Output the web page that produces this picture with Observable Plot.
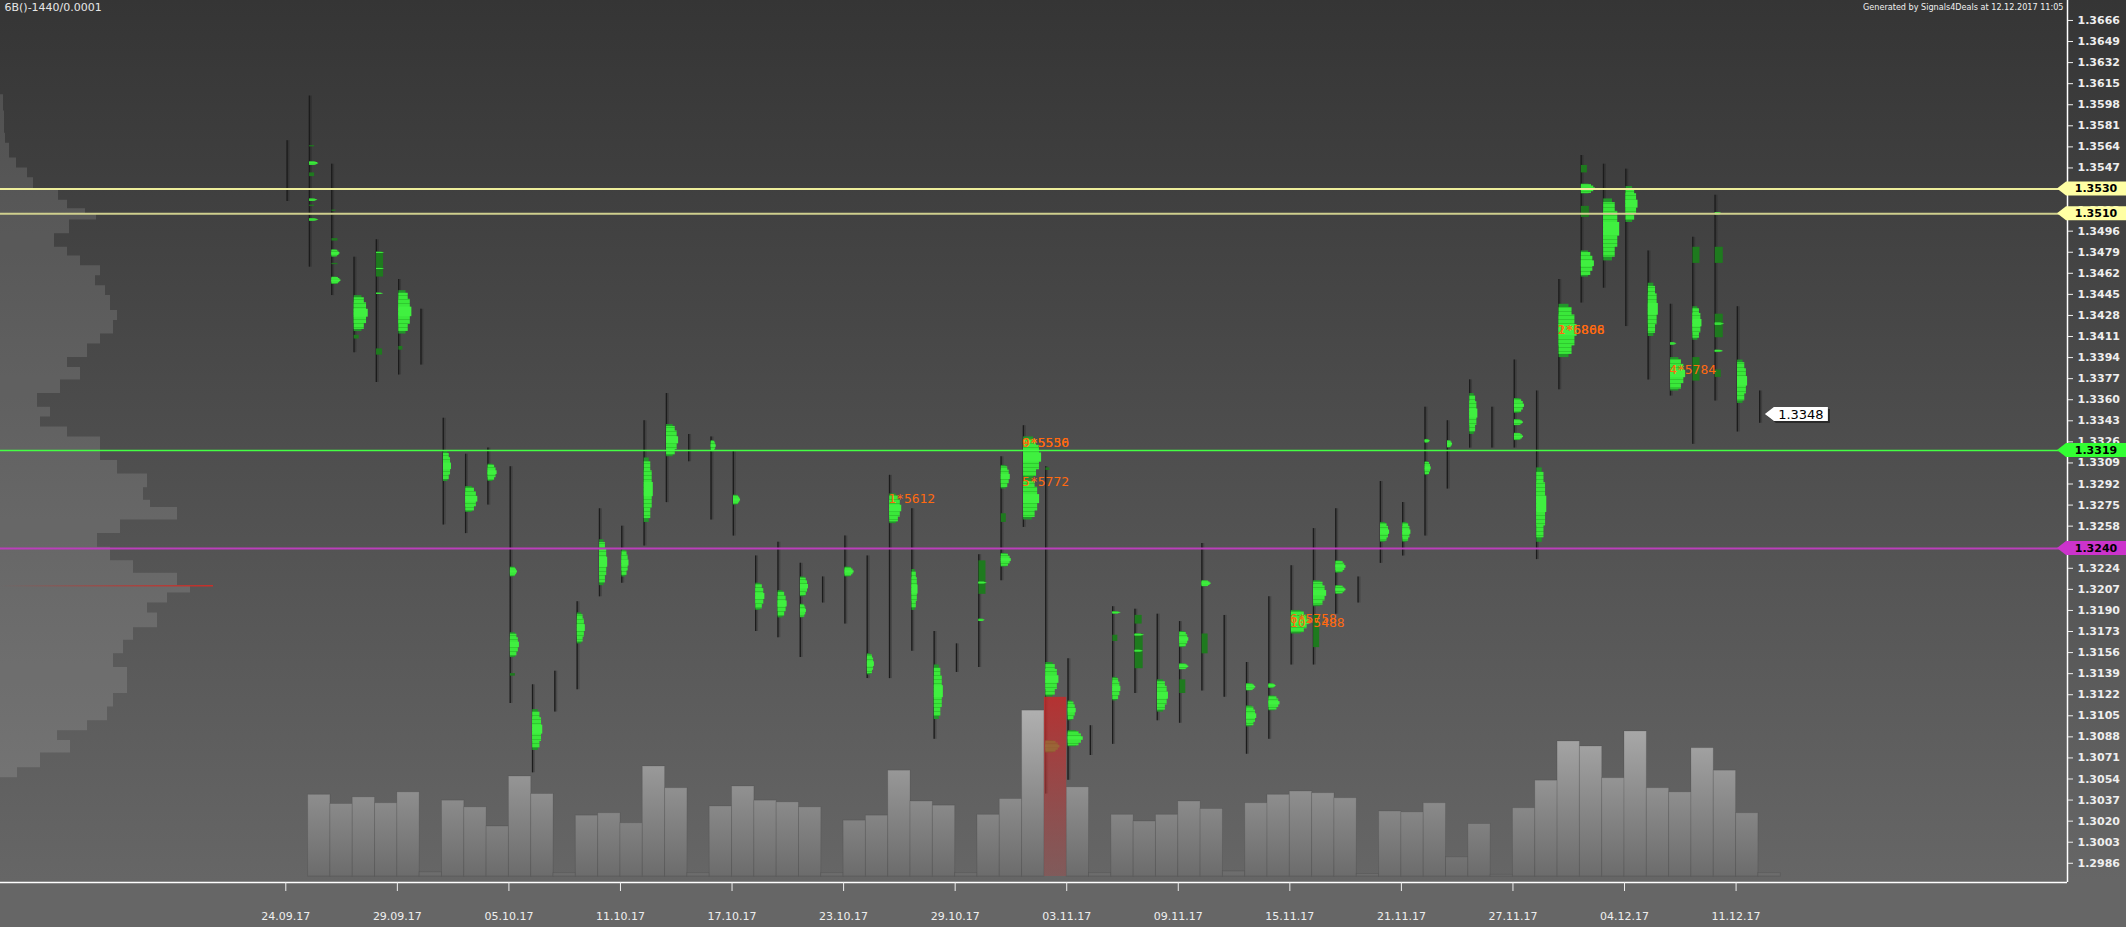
<!DOCTYPE html>
<html><head><meta charset="utf-8">
<script src="https://cdn.jsdelivr.net/npm/d3@7"></script>
<script src="https://cdn.jsdelivr.net/npm/@observablehq/plot@0.6"></script>
<style>
html,body{margin:0;padding:0;background:#666;}
#chart{position:relative;width:2126px;height:927px;overflow:hidden;
 background:linear-gradient(to bottom,#353535 0px,#666666 880px,#666666 927px);}
#chart svg{position:absolute;left:0;top:0;}
</style></head><body><div id="chart"></div>
<script>
// ---------------- DATA ----------------
const titleText = "6B()-1440/0.0001";
const creditText = "Generated by Signals4Deals at 12.12.2017 11:05";

// daily columns (index = column), Sun..Fri sessions
const highs = [1.3569,1.3605,1.3550,1.3475,1.3489,1.3457,1.3433,1.3345,1.3316,1.3321,
 1.3306,1.3130,1.3141,1.3197,1.3272,1.3258,1.3343,1.3365,1.3332,1.3330,
 1.3318,1.3234,1.3245,1.3228,1.3217,1.3250,1.3234,1.3299,1.3272,1.3173,
 1.3163,1.3235,1.3314,1.3339,1.3306,1.3151,1.3097,1.3193,1.3191,1.3187,
 1.3181,1.3244,1.3186,1.3148,1.3201,1.3226,1.3256,1.3272,1.3217,1.3294,
 1.3277,1.3354,1.3343,1.3376,1.3354,1.3392,1.3367,1.3457,1.3557,1.3550,
 1.3546,1.3480,1.3437,1.3491,1.3525,1.3435,1.3367];
const lows = [1.3520,1.3467,1.3444,1.3398,1.3374,1.3380,1.3388,1.3259,1.3252,1.3275,
 1.3115,1.3059,1.3108,1.3126,1.3201,1.3212,1.3242,1.3277,1.3310,1.3263,
 1.3250,1.3173,1.3168,1.3152,1.3196,1.3179,1.3135,1.3135,1.3157,1.3086,
 1.3140,1.3144,1.3214,1.3257,1.3042,1.3053,1.3073,1.3082,1.3123,1.3101,
 1.3099,1.3125,1.3120,1.3074,1.3086,1.3146,1.3146,1.3187,1.3196,1.3228,
 1.3234,1.3250,1.3288,1.3321,1.3321,1.3321,1.3231,1.3368,1.3438,1.3450,
 1.3419,1.3376,1.3363,1.3324,1.3359,1.3334,1.3341];
// daily volume (thousand contracts)
const volumes = [0,98,87,95,88,101,5,91,83,60,120,99,4,73,76,64,132,106,4,84,
 108,91,89,83,4,67,73,127,90,85,4,74,93,199,215,107,4,74,66,74,
 90,81,6,88,98,102,100,94,3,78,77,88,23,63,2,82,115,162,156,118,
 174,106,101,154,127,76,4];
const highlightCol = 34;

// intraday volume-profile clusters: [column, top price, bottom price, volume, strong(1)/weak(0)]
const profileBlocks = [
[1,1.3565,1.3564,5,0],[1,1.3552,1.3549,9,1],[1,1.3543,1.3540,5,0],[1,1.3522,1.3520,8,1],[1,1.3517,1.3516,5,0],[1,1.3510,1.3509,6,0],[1,1.3506,1.3504,9,1],
[2,1.3513,1.3512,4,0],[2,1.3490,1.3488,6,0],[2,1.3481,1.3475,8,1],[2,1.3470,1.3469,6,0],[2,1.3459,1.3453,9,1],
[3,1.3444,1.3415,14,1],[3,1.3412,1.3409,5,0],
[4,1.3479,1.3459,7,0],[4,1.3479,1.3478,8,1],[4,1.3466,1.3465,8,1],[4,1.3446,1.3445,7,1],[4,1.3401,1.3396,6,0],
[5,1.3448,1.3413,13,1],[5,1.3403,1.3400,4,0],
[7,1.3318,1.3294,8,1],
[8,1.3290,1.3269,12,1],
[9,1.3308,1.3294,9,1],
[10,1.3225,1.3217,7,1],[10,1.3172,1.3152,9,1],[10,1.3139,1.3137,5,0],
[11,1.3110,1.3077,10,1],
[13,1.3188,1.3163,8,1],
[14,1.3247,1.3210,8,1],
[15,1.3239,1.3217,7,1],
[16,1.3313,1.3261,9,1],
[17,1.3340,1.3314,12,1],
[19,1.3327,1.3318,5,1],
[20,1.3283,1.3275,7,1],
[21,1.3212,1.3190,9,1],
[22,1.3206,1.3184,9,1],
[23,1.3217,1.3201,8,1],[23,1.3195,1.3184,6,1],
[25,1.3225,1.3217,9,1],
[26,1.3155,1.3138,7,1],
[27,1.3284,1.3260,12,1],
[28,1.3223,1.3190,6,1],
[29,1.3146,1.3102,9,1],
[31,1.3230,1.3203,7,0],[31,1.3213,1.3211,8,1],[31,1.3183,1.3181,6,1],
[32,1.3307,1.3288,9,1],[32,1.3268,1.3261,5,0],[32,1.3236,1.3225,10,1],
[33,1.3330,1.3296,18,1],[33,1.3296,1.3263,16,1],
[34,1.3305,1.3303,4,0],[34,1.3148,1.3120,13,1],[34,1.3085,1.3075,14,1],
[35,1.3117,1.3101,8,1],[35,1.3093,1.3080,15,1],
[37,1.3189,1.3187,8,1],[37,1.3170,1.3165,5,0],[37,1.3136,1.3117,8,1],
[38,1.3186,1.3179,7,0],[38,1.3171,1.3143,8,0],[38,1.3171,1.3169,9,1],[38,1.3158,1.3156,8,1],
[39,1.3134,1.3108,11,1],
[40,1.3173,1.3160,9,1],[40,1.3147,1.3142,9,1],[40,1.3134,1.3123,6,0],
[41,1.3214,1.3209,9,1],[41,1.3171,1.3155,6,0],
[43,1.3131,1.3125,9,1],[43,1.3113,1.3096,10,1],
[44,1.3131,1.3127,7,1],[44,1.3121,1.3109,11,1],
[45,1.3190,1.3171,18,1],
[46,1.3214,1.3193,13,1],[46,1.3186,1.3160,6,0],
[47,1.3230,1.3220,10,1],[47,1.3210,1.3203,10,1],
[49,1.3261,1.3245,9,1],
[50,1.3261,1.3245,8,1],
[51,1.3328,1.3325,5,1],[51,1.3310,1.3299,6,1],
[52,1.3327,1.3321,5,1],
[53,1.3365,1.3332,8,1],
[55,1.3361,1.3349,10,1],[55,1.3344,1.3339,9,1],[55,1.3333,1.3327,9,1],
[56,1.3305,1.3245,10,1],
[57,1.3437,1.3394,18,1],
[58,1.3549,1.3543,6,0],[58,1.3534,1.3526,14,1],[58,1.3516,1.3507,8,0],[58,1.3480,1.3459,13,1],
[59,1.3522,1.3472,16,1],
[60,1.3532,1.3503,12,1],
[61,1.3454,1.3411,10,1],
[62,1.3406,1.3404,6,1],[62,1.3394,1.3367,15,1],
[63,1.3483,1.3470,7,0],[63,1.3435,1.3408,9,1],[63,1.3394,1.3375,7,0],
[64,1.3511,1.3509,7,1],[64,1.3483,1.3470,8,0],[64,1.3429,1.3410,8,0],[64,1.3422,1.3420,9,1],[64,1.3400,1.3398,8,1],[64,1.3384,1.3378,6,0],
[65,1.3392,1.3357,10,1]
];

// composite (whole-period) volume profile on the left
const compositePrices = [1.3606,1.3593,1.3575,1.3567,1.3555,1.3547,1.3539,1.3530,1.3521,1.3514,
 1.3510,1.3505,1.3494,1.3483,1.3476,1.3468,1.3460,1.3452,1.3444,1.3440,
 1.3432,1.3424,1.3413,1.3405,1.3394,1.3386,1.3376,1.3365,1.3354,1.3346,
 1.3338,1.3330,1.3321,1.3311,1.3300,1.3289,1.3279,1.3273,1.3263,1.3252,
 1.3241,1.3230,1.3220,1.3210,1.3204,1.3196,1.3188,1.3176,1.3166,1.3155,
 1.3144,1.3133,1.3123,1.3112,1.3101,1.3093,1.3085,1.3075,1.3063,1.3055];
const compositeVolumes = [3,4,5,9,16,27,33,58,67,85,96,69,54,67,80,100,95,105,110,110,
 117,113,100,87,67,80,60,37,50,40,67,100,100,117,147,143,150,177,120,97,
 110,133,177,190,167,147,157,133,123,113,127,127,113,107,87,57,70,40,17,0];
const pocPrice = 1.3210;
const pocVolume = 213;

// key levels
const levelPrices = [1.3530, 1.3510, 1.3319, 1.3240];
const lastPrice = 1.3348;

// cluster notes
const noteCols = [27, 33, 33, 33, 45, 45, 57, 57, 62];
const notePrices = [1.3280, 1.3325, 1.3325, 1.3294, 1.3183, 1.3180, 1.3416, 1.3416, 1.3384];
const noteTexts = ["1*5612", "0*5556", "9*5530", "5*5772", "6*5758", "10*5488", "2*6866", "1*5808", "4*5784"];

// axes
const yTicks = [1.2986,1.3003,1.3020,1.3037,1.3054,1.3071,1.3088,1.3105,1.3122,1.3139,
 1.3156,1.3173,1.3190,1.3207,1.3224,1.3241,1.3258,1.3275,1.3292,1.3309,
 1.3326,1.3343,1.3360,1.3377,1.3394,1.3411,1.3428,1.3445,1.3462,1.3479,
 1.3496,1.3513,1.3530,1.3547,1.3564,1.3581,1.3598,1.3615,1.3632,1.3649,1.3666];
const xTickCols = [0,5,10,15,20,25,30,35,40,45,50,55,60,65];
const xTickLabels = ["24.09.17","29.09.17","05.10.17","11.10.17","17.10.17","23.10.17","29.10.17",
 "03.11.17","09.11.17","15.11.17","21.11.17","27.11.17","04.12.17","11.12.17"];

// ---------------- LAYOUT / STYLE ----------------
const W = 2126, H = 927, MR = 59, MB = 45, AXIS_X = W - MR;
const COL_PX = 22.312, COL0_PX = 285.3;
const X_DOMAIN = [-COL0_PX / COL_PX, (AXIS_X - COL0_PX) / COL_PX];
const Y_DOMAIN = [1.29705, 1.36821];
const VOL_BASE_PX = 876, VOL_PER_PX = 1.2;
const LEVEL_STYLE = [
  {line: "#eeee9c", width: 2, tag: "#ffffa4"},
  {line: "#cfcf8e", width: 2, tag: "#ffffa4"},
  {line: "#44ff44", width: 1.5, tag: "#33ff33"},
  {line: "#bb3fbb", width: 2, tag: "#cc33cc"}
];

function base(extra) {
  return Object.assign({
    width: W, height: H, marginLeft: 0, marginRight: MR, marginTop: 0, marginBottom: MB,
    style: {background: "transparent", color: "#eeeeee", fontFamily: "DejaVu Sans", overflow: "visible"}
  }, extra);
}
function defsMark(build) {
  return () => { const d = d3.create("svg:defs"); build(d); return d.node(); };
}
function linGrad(defs, id, x1, y1, x2, y2, stops) {
  const g = defs.append("linearGradient").attr("id", id).attr("gradientUnits", "userSpaceOnUse")
    .attr("x1", x1).attr("y1", y1).attr("x2", x2).attr("y2", y2);
  for (const [o, c, a] of stops) g.append("stop").attr("offset", o).attr("stop-color", c).attr("stop-opacity", a);
}

const root = document.getElementById("chart");

// ---- layer 1: composite profile ----
const compData = compositePrices.map((p, i) => ({p, v: compositeVolumes[i]}));
root.append(Plot.plot(base({
  x: {domain: [0, AXIS_X], axis: null},
  y: {domain: Y_DOMAIN, axis: null},
  marks: [
    defsMark(d => linGrad(d, "pocGrad", 0, 0, pocVolume, 0, [[0, "#c8302a", 0], [1, "#c8302a", 1]])),
    Plot.areaX(compData, {y: "p", x: "v", curve: "step-before", fill: "#ffffff", fillOpacity: 0.12}),
    Plot.ruleY([pocPrice], {x1: 0, x2: pocVolume, stroke: "url(#pocGrad)", strokeWidth: 1.5})
  ]
})));

// ---- layer 2: daily volume bars ----
const volData = volumes.map((v, i) => ({col: i, v}));
const volScale = {domain: [0, VOL_BASE_PX * VOL_PER_PX], axis: null};
root.append(Plot.plot(base({
  marginBottom: H - VOL_BASE_PX,
  x: {domain: X_DOMAIN, axis: null},
  y: volScale,
  marks: [
    defsMark(d => linGrad(d, "volGrad", 0, 690, 0, VOL_BASE_PX, [[0, "#b8b8b8", 1], [1, "#6c6c6c", 1]])),
    Plot.rect(volData.filter(d => d.col !== highlightCol && d.v > 0), {
      x1: "col", x2: d => d.col + 1, y1: 0, y2: "v",
      fill: "url(#volGrad)", stroke: "#000", strokeOpacity: 0.1, strokeWidth: 1
    })
  ]
})));

// ---- layer 3: price ----
const candleData = highs.map((h, i) => ({col: i, high: h, low: lows[i]}));
const blockData = profileBlocks.map(([col, top, bottom, vol, tone]) => ({col, top, bottom, vol, tone}));
const strong = blockData.filter(d => d.tone);
const weak = blockData.filter(d => !d.tone);
const noteData = noteTexts.map((t, i) => ({col: noteCols[i], price: notePrices[i], text: t}));
const labelOf = new Map(xTickCols.map((c, i) => [c, xTickLabels[i]]));
// profile shape: narrower shoulders, full width around the middle of each cluster
const bx1 = d => d.col + 1.5 / COL_PX;
const bx2 = f => d => d.col + (1.5 + d.vol * f) / COL_PX;
const band = (a, b) => ({
  y1: d => d.bottom + (d.top - d.bottom) * a,
  y2: d => d.bottom + (d.top - d.bottom) * b
});

function tagsMark() {
  return (index, scales, values, dim) => {
    const g = d3.create("svg:g");
    const x0 = dim.width - dim.marginRight;
    levelPrices.forEach((p, i) => {
      const y = scales.y(p);
      g.append("polygon")
        .attr("points", `${x0 - 10},${y} ${x0 - 1},${y - 7} ${dim.width},${y - 7} ${dim.width},${y + 7} ${x0 - 1},${y + 7}`)
        .attr("fill", LEVEL_STYLE[i].tag);
      g.append("text").attr("x", x0 + 29).attr("y", y).attr("dy", "0.36em")
        .attr("text-anchor", "middle").attr("font-family", "DejaVu Sans").attr("font-weight", "bold")
        .attr("font-size", 11).attr("fill", "#000").text(p.toFixed(4));
    });
    return g.node();
  };
}
function lastPriceMark() {
  return (index, scales, values, dim) => {
    const g = d3.create("svg:g");
    const x = scales.x(highs.length - 1) + 7, y = scales.y(lastPrice);
    const pts = (dx, dy) => `${x + dx},${y + dy} ${x + 9 + dx},${y - 7 + dy} ${x + 63 + dx},${y - 7 + dy} ${x + 63 + dx},${y + 7 + dy} ${x + 9 + dx},${y + 7 + dy}`;
    g.append("polygon").attr("points", pts(2, 2)).attr("fill", "#000").attr("fill-opacity", 0.45);
    g.append("polygon").attr("points", pts(0, 0)).attr("fill", "#ffffff");
    g.append("text").attr("x", x + 36).attr("y", y).attr("dy", "0.36em").attr("text-anchor", "middle")
      .attr("font-family", "DejaVu Sans").attr("font-size", 13).attr("fill", "#000").text(lastPrice.toFixed(4));
    return g.node();
  };
}

const priceMarks = [
  defsMark(d => {
    const pat = d.append("pattern").attr("id", "gStripe").attr("patternUnits", "userSpaceOnUse")
      .attr("width", 6).attr("height", 4);
    pat.append("rect").attr("width", 6).attr("height", 4).attr("fill", "#3ae83a");
    pat.append("rect").attr("y", 3).attr("width", 6).attr("height", 1).attr("fill", "#2fc92f");
  }),
  // candle line with a faint dark shadow
  Plot.ruleX(candleData, {x: "col", y1: "low", y2: "high", stroke: "#111", strokeOpacity: 0.22, strokeWidth: 3, dx: 2.2}),
  Plot.ruleX(candleData, {x: "col", y1: "low", y2: "high", stroke: "#1c1c1c", strokeWidth: 1.3, dx: 1.3}),
  Plot.rect(weak, {x1: bx1, x2: bx2(1), y1: "bottom", y2: "top", fill: "#1e7a1e"}),
  // strong clusters: dark green base, bright tiers
  Plot.rect(strong, {x1: bx1, x2: bx2(0.55), y1: "bottom", y2: "top", fill: "#22962a"}),
  Plot.rect(strong, {x1: bx1, x2: bx2(0.72), ...band(0.06, 0.94), fill: "url(#gStripe)"}),
  Plot.rect(strong, {x1: bx1, x2: bx2(0.88), ...band(0.22, 0.8), fill: "url(#gStripe)"}),
  Plot.rect(strong, {x1: bx1, x2: bx2(1), ...band(0.4, 0.62), fill: "#40f040"}),
  ...levelPrices.map((p, i) => Plot.ruleY([p], {stroke: LEVEL_STYLE[i].line, strokeWidth: LEVEL_STYLE[i].width})),
  Plot.text(noteData, {x: "col", y: "price", text: "text", textAnchor: "start", fill: "#ff6a10",
    fontFamily: "DejaVu Sans Mono", fontSize: 13}),
  Plot.ruleY([Y_DOMAIN[0]], {stroke: "#ffffff", strokeWidth: 1.5}),
  Plot.ruleX([X_DOMAIN[1]], {stroke: "#ffffff", strokeWidth: 1.5}),
  Plot.axisY(yTicks, {anchor: "right", tickSize: 5, tickPadding: 5, tickFormat: d => d.toFixed(4),
    fontWeight: "bold", fontSize: 11, fontFamily: "DejaVu Sans", label: null}),
  Plot.axisX(xTickCols, {anchor: "bottom", tickSize: 9, tickPadding: 21, tickFormat: c => labelOf.get(c),
    fontSize: 11, fontFamily: "DejaVu Sans", label: null}),
  tagsMark(),
  lastPriceMark(),
  Plot.text([titleText], {text: d => d, frameAnchor: "top-left", dx: 4, dy: 3, lineAnchor: "top",
    textAnchor: "start", fontSize: 11, fontFamily: "DejaVu Sans", fill: "#e6e6e6"}),
  Plot.text([creditText], {text: d => d, frameAnchor: "top-right", dx: -4, dy: 3, lineAnchor: "top",
    textAnchor: "end", fontSize: 9, fontFamily: "DejaVu Sans Condensed, DejaVu Sans", fill: "#f0f0f0"})
];
root.append(Plot.plot(base({
  x: {domain: X_DOMAIN, axis: null},
  y: {domain: Y_DOMAIN, axis: null},
  marks: priceMarks
})));

// ---- layer 4: highlighted (red) volume bar on top ----
root.append(Plot.plot(base({
  marginBottom: H - VOL_BASE_PX,
  x: {domain: X_DOMAIN, axis: null},
  y: volScale,
  marks: [
    defsMark(d => linGrad(d, "redGrad", 0, 690, 0, VOL_BASE_PX, [[0, "#c42a2a", 0.88], [1, "#a84a4a", 0.4]])),
    Plot.rect(volData.filter(d => d.col === highlightCol), {
      x1: "col", x2: d => d.col + 1, y1: 0, y2: "v", fill: "url(#redGrad)"
    })
  ]
})));
</script></body></html>
